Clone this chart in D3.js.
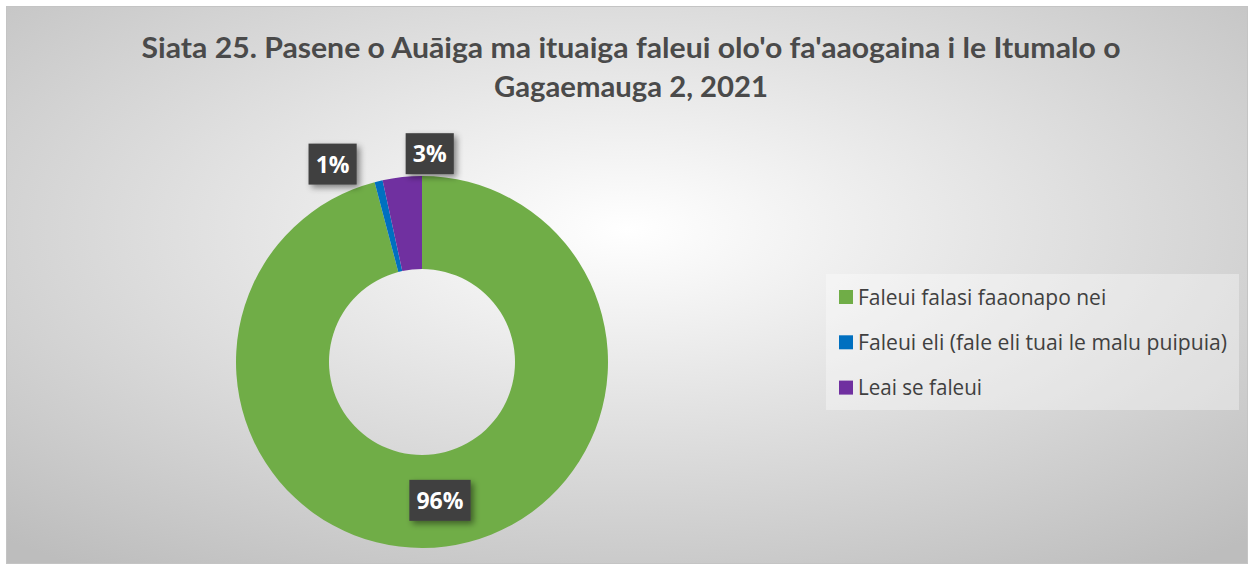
<!DOCTYPE html>
<html>
<head>
<meta charset="utf-8">
<script src="https://cdn.jsdelivr.net/npm/d3@7"></script>
<style>
  body { margin: 0; background: #fff; }
  svg { display: block; }
</style>
</head>
<body>
<div id="chart"></div>
<script>
// chart data
const titleLines = ["Siata 25. Pasene o Auāiga ma ituaiga faleui olo'o fa'aaogaina i le Itumalo o", "Gagaemauga 2, 2021"]
const categories = ["Faleui falasi faaonapo nei", "Faleui eli (fale eli tuai le malu puipuia)", "Leai se faleui"]
const values = [95.9, 0.7, 3.4]
const valueLabels = ["96%", "1%", "3%"]
const colors = ["#70AD47", "#0070C0", "#7030A0"]

const W = 1254, H = 569
const cx = 422, cy = 362, outerR = 186, innerR = 93
// label placement: inside ring for big slice, outside (nudged) for the small ones
const labelPlace = [
  { r: 140, dx: 0, dy: 0 },
  { r: 203, dx: -42, dy: 0 },
  { r: 209, dx: 30, dy: 0 }
]

const svg = d3.select("#chart").append("svg")
  .attr("width", W).attr("height", H)

const defs = svg.append("defs")
const grad = defs.append("radialGradient")
  .attr("id", "bg").attr("cx", "50%").attr("cy", "40%").attr("r", "75%")
grad.append("stop").attr("offset", "0%").attr("stop-color", "#ffffff")
grad.append("stop").attr("offset", "100%").attr("stop-color", "#bdbdbd")

const shadow = defs.append("filter").attr("id", "shadow")
  .attr("x", "-30%").attr("y", "-30%").attr("width", "170%").attr("height", "170%")
shadow.append("feDropShadow")
  .attr("dx", 3).attr("dy", 3).attr("stdDeviation", 3)
  .attr("flood-color", "#000").attr("flood-opacity", 0.45)

svg.append("rect")
  .attr("x", 6.5).attr("y", 6.5).attr("width", W - 13).attr("height", H - 12)
  .attr("fill", "url(#bg)").attr("stroke", "#c4c4c4")

// fit a text element horizontally to a target width
function fit(sel, target) {
  sel.each(function() {
    const w = this.getComputedTextLength()
    if (Math.abs(w - target) > 2) {
      d3.select(this).attr("textLength", target).attr("lengthAdjust", "spacingAndGlyphs")
    }
  })
}

// title
const titleWidths = [979, 274]
const titleY = [58, 97]
titleLines.forEach((t, i) => {
  svg.append("text")
    .attr("x", 631).attr("y", titleY[i])
    .attr("text-anchor", "middle")
    .attr("font-family", "Lato, 'Open Sans', sans-serif")
    .attr("font-weight", "bold")
    .attr("font-size", 29)
    .attr("fill", "#4a4a4a")
    .text(t)
    .call(fit, titleWidths[i])
})

// donut
const pie = d3.pie().sort(null).value(d => d)
const arcs = pie(values)
const arc = d3.arc().innerRadius(innerR).outerRadius(outerR)

const g = svg.append("g").attr("transform", `translate(${cx},${cy})`)
g.selectAll("path")
  .data(arcs)
  .join("path")
  .attr("d", arc)
  .attr("fill", (d, i) => colors[i])

// data labels
const labels = g.selectAll("g.lbl")
  .data(arcs)
  .join("g")
  .attr("class", "lbl")
  .attr("transform", (d, i) => {
    const p = d3.arc().innerRadius(labelPlace[i].r).outerRadius(labelPlace[i].r).centroid(d)
    return `translate(${p[0] + labelPlace[i].dx},${p[1] + labelPlace[i].dy})`
  })

labels.each(function(d, i) {
  const el = d3.select(this)
  const txt = el.append("text")
    .attr("text-anchor", "middle")
    .attr("dy", "0.36em")
    .attr("font-family", "'Open Sans', sans-serif")
    .attr("font-weight", "bold")
    .attr("font-size", 23)
    .attr("fill", "#fff")
    .text(valueLabels[i])
  const bb = txt.node().getBBox()
  const padX = 7
  el.insert("rect", "text")
    .attr("x", -bb.width / 2 - padX)
    .attr("y", -21)
    .attr("width", bb.width + padX * 2)
    .attr("height", 41)
    .attr("fill", "#404040")
    .attr("filter", "url(#shadow)")
})

// legend
const legend = svg.append("g")
legend.append("rect")
  .attr("x", 826).attr("y", 274).attr("width", 413).attr("height", 136)
  .attr("fill", "#ffffff").attr("fill-opacity", 0.35)

const legendWidths = [249, 369, 124]
const rows = legend.selectAll("g.row")
  .data(categories)
  .join("g")
  .attr("class", "row")
  .attr("transform", (d, i) => `translate(839,${297 + i * 45.3})`)
rows.append("rect")
  .attr("x", 0).attr("y", -7).attr("width", 14).attr("height", 14)
  .attr("fill", (d, i) => colors[i])
rows.append("text")
  .attr("x", 19).attr("dy", "0.36em")
  .attr("font-family", "'Open Sans', sans-serif")
  .attr("font-size", 21)
  .attr("fill", "#404040")
  .text(d => d)
  .each(function(d, i) { d3.select(this).call(fit, legendWidths[i]) })
</script>
</body>
</html>
